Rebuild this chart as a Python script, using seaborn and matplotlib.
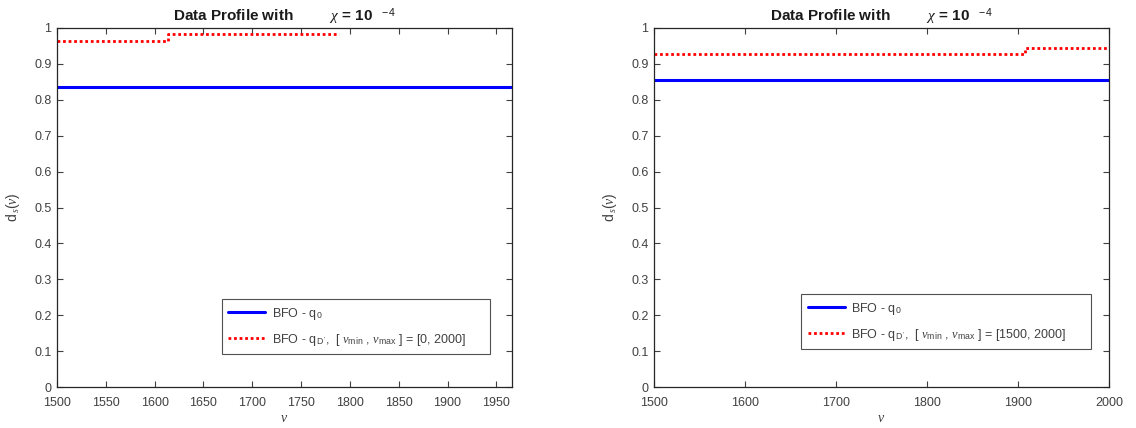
import numpy as np
import pandas as pd
import matplotlib
matplotlib.use("Agg")
import matplotlib.pyplot as plt
import seaborn as sns

# values
nu_left = [1500, 1614, 1789]
dq_left = [0.963, 0.983, 0.983]
nu_right = [1500, 1908, 2000]
dq_right = [0.928, 0.945, 0.945]
q0_left = 0.836
q0_right = 0.855
xmax_left = 1966
xmax_right = 2000
xticks_left = list(range(1500, 2000, 50))
xticks_right = list(range(1500, 2001, 100))
yticks = [0, 0.1, 0.2, 0.3, 0.4, 0.5, 0.6, 0.7, 0.8, 0.9, 1]
ranges = ["[0, 2000]", "[1500, 2000]"]

sns.set_style("ticks")
plt.rcParams['font.family'] = ['Liberation Sans', 'DejaVu Sans']
plt.rcParams['mathtext.fontset'] = 'custom'
plt.rcParams['mathtext.rm'] = 'Liberation Sans'
plt.rcParams['mathtext.it'] = 'Liberation Serif:italic'
plt.rcParams['xtick.direction'] = 'in'
plt.rcParams['ytick.direction'] = 'in'
plt.rcParams['xtick.top'] = True
plt.rcParams['ytick.right'] = True

fig = plt.figure(figsize=(11.36, 4.28), dpi=100)
W, H = 1136, 428
ax1 = fig.add_axes([57 / W, (H - 387) / H, (512 - 57) / W, (387 - 28) / H])
ax2 = fig.add_axes([654 / W, (H - 387) / H, (1109 - 654) / W, (387 - 28) / H])

panels = [
    (ax1, nu_left, dq_left, q0_left, xmax_left, xticks_left, ranges[0], (0.952, 0.092)),
    (ax2, nu_right, dq_right, q0_right, xmax_right, xticks_right, ranges[1], (0.960, 0.106)),
]

grey = '#404040'
for ax, nu, dq, q0, xmax, xt, rng, anchor in panels:
    blue = pd.DataFrame({'nu': [1500, xmax], 'd': [q0, q0]})
    red = pd.DataFrame({'nu': nu, 'd': dq})
    sns.lineplot(data=blue, x='nu', y='d', ax=ax, color='#0000ff', lw=2.2,
                 label=r"BFO - q$_{\,0}$")
    sns.lineplot(data=red, x='nu', y='d', ax=ax, color='#ff0000', lw=2.0,
                 linestyle=(0, (1, 1)), drawstyle='steps-post',
                 label=r"BFO - q$_{\,\mathrm{D'}}$,  [ $\mathit{\nu}_{\rm min}$ , $\mathit{\nu}_{\rm max}$ ] = " + rng + "      ")
    ax.set_xlim(1500, xmax)
    ax.set_ylim(0, 1)
    ax.set_xticks(xt)
    ax.set_yticks(yticks)
    ax.set_yticklabels([f"{v:g}" for v in yticks])
    ax.tick_params(labelsize=9, colors=grey, length=4, width=0.8)
    ax.tick_params(axis='x', pad=7)
    ax.tick_params(axis='y', pad=4)
    for s in ax.spines.values():
        s.set_linewidth(0.9)
        s.set_color('#262626')
        s.set_visible(True)
    ax.set_xlabel(r"$\mathit{\nu}$", fontsize=10, color=grey, labelpad=2)
    ax.set_ylabel(r"d$_{\,s}$($\mathit{\nu}$)", fontsize=10, color=grey, labelpad=9)
    ax.set_title(r"Data Profile with         $\mathit{\chi}$ = 10$^{\quad-4}$",
                 fontsize=11, fontweight='bold', pad=5, color='#1a1a1a')
    leg = ax.legend(loc='lower right', bbox_to_anchor=anchor, fontsize=9,
                    frameon=True, fancybox=False, edgecolor='#262626',
                    handlelength=3.0, handletextpad=0.5, borderpad=0.5,
                    labelspacing=0.8, borderaxespad=0)
    leg.get_frame().set_linewidth(0.8)
    for t in leg.get_texts():
        t.set_color(grey)

fig.savefig("out.png", dpi=100)
